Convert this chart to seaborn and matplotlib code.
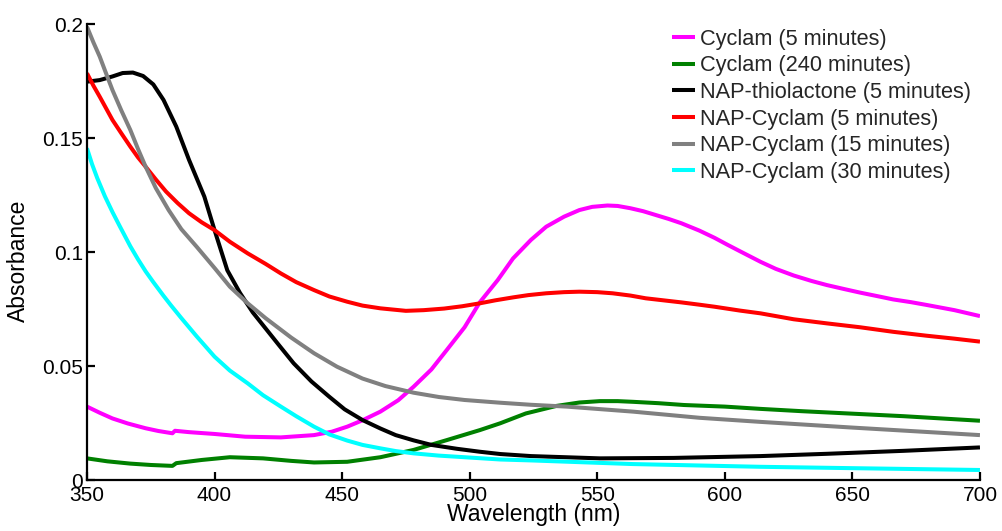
import matplotlib
matplotlib.use("Agg")
import matplotlib.pyplot as plt
import pandas as pd
import seaborn as sns

# UV-Vis absorbance spectra (wavelength in nm, absorbance in a.u.)
cyclam_5_wl = [350, 355, 360, 366, 373, 378, 383.5, 384.5, 390, 400, 412, 426, 439, 446,
               452, 458, 465, 472, 478, 485, 491, 498, 504, 511, 517, 524, 530, 537, 543,
               548, 554, 558, 563, 568, 573, 578, 583, 590, 596, 601, 606, 614, 620, 627,
               634, 640, 647, 653, 660, 666, 673, 679, 690, 700]
cyclam_5_abs = [0.0322, 0.0295, 0.0270, 0.0248, 0.0227, 0.0215, 0.0205, 0.0216, 0.0210,
                0.0202, 0.0190, 0.0187, 0.0197, 0.0212, 0.0234, 0.0262, 0.0300, 0.0350,
                0.0409, 0.0485, 0.0570, 0.0670, 0.0780, 0.0877, 0.0972, 0.1053, 0.1111,
                0.1155, 0.1184, 0.1198, 0.1204, 0.1202, 0.1192, 0.1179, 0.1162, 0.1145,
                0.1126, 0.1094, 0.1062, 0.1032, 0.1003, 0.0957, 0.0926, 0.0897, 0.0873,
                0.0855, 0.0837, 0.0822, 0.0806, 0.0792, 0.0780, 0.0768, 0.0745, 0.0719]

cyclam_240_wl = [350, 358, 367, 375, 383.5, 385, 395, 406, 419, 430, 439, 452, 465, 478,
                 491, 504, 512, 522, 534, 543, 551, 558, 564, 574, 584, 600, 614, 630, 650,
                 670, 685, 700]
cyclam_240_abs = [0.0095, 0.0082, 0.0072, 0.0066, 0.0062, 0.0074, 0.0088, 0.0100, 0.0095,
                  0.0084, 0.0077, 0.0080, 0.0100, 0.0132, 0.0175, 0.0219, 0.0249, 0.0292,
                  0.0325, 0.0340, 0.0346, 0.0346, 0.0343, 0.0337, 0.0329, 0.0322, 0.0312,
                  0.0302, 0.0291, 0.0280, 0.0270, 0.0260]

thiolactone_wl = [350, 355, 360, 364, 368, 372, 376, 380, 385, 390, 396, 400, 405, 410, 415,
                  420, 425, 431, 438, 445, 451, 458, 465, 471, 478, 485, 495, 504, 512, 524,
                  551, 580, 614, 640, 670, 700]
thiolactone_abs = [0.1747, 0.1754, 0.1770, 0.1785, 0.1787, 0.1772, 0.1735, 0.1667, 0.1550,
                   0.1404, 0.1243, 0.1096, 0.0920, 0.0820, 0.0735, 0.0665, 0.0595, 0.0512,
                   0.0432, 0.0365, 0.0310, 0.0263, 0.0226, 0.0197, 0.0174, 0.0154, 0.0137,
                   0.0124, 0.0114, 0.0105, 0.0095, 0.0097, 0.0105, 0.0115, 0.0128, 0.0143]

nap_5_wl = [350, 352.5, 355, 357.5, 360, 363.5, 367, 370, 373, 377, 381, 385.5, 390, 395,
            400, 406, 413, 420, 426, 432, 439, 445, 452, 458, 465, 475, 482, 490, 497, 504,
            510, 517, 523, 530, 537, 543, 550, 556, 563, 569, 576, 583, 590, 596, 606, 614,
            627, 640, 653, 666, 679, 690, 700]
nap_5_abs = [0.1784, 0.1730, 0.1681, 0.1630, 0.1579, 0.1520, 0.1462, 0.1415, 0.1374, 0.1318,
             0.1265, 0.1215, 0.1170, 0.1130, 0.1096, 0.1045, 0.0994, 0.0948, 0.0906, 0.0868,
             0.0833, 0.0805, 0.0782, 0.0765, 0.0753, 0.0742, 0.0745, 0.0752, 0.0762, 0.0775,
             0.0788, 0.0801, 0.0811, 0.0819, 0.0824, 0.0826, 0.0824, 0.0819, 0.0809, 0.0797,
             0.0788, 0.0779, 0.0769, 0.0760, 0.0743, 0.0731, 0.0705, 0.0687, 0.0670, 0.0650,
             0.0633, 0.0620, 0.0607]

nap_15_wl = [350, 352.5, 355, 357.5, 360, 363.5, 367, 370, 373, 377, 382, 387, 393, 400, 406,
             413, 420, 430, 439, 448, 458, 467, 478, 488, 498, 512, 524, 538, 564, 590, 614,
             650, 700]
nap_15_abs = [0.1988, 0.1920, 0.1857, 0.1783, 0.1710, 0.1620, 0.1535, 0.1452, 0.1374, 0.1280,
              0.1184, 0.1100, 0.1023, 0.0930, 0.0848, 0.0775, 0.0710, 0.0625, 0.0556, 0.0497,
              0.0445, 0.0412, 0.0383, 0.0364, 0.0351, 0.0339, 0.0330, 0.0322, 0.0300, 0.0273,
              0.0255, 0.0230, 0.0197]

nap_30_wl = [350, 352, 354, 357, 360, 363, 367, 370, 373, 376, 380, 383, 387, 393, 400, 406,
             413, 419, 426, 432, 439, 445, 452, 458, 465, 471, 478, 488, 498, 512, 524, 564,
             614, 650, 700]
nap_30_abs = [0.1455, 0.1385, 0.1325, 0.1245, 0.1175, 0.1110, 0.1025, 0.0968, 0.0915, 0.0868,
              0.0808, 0.0765, 0.0710, 0.0630, 0.0541, 0.0480, 0.0424, 0.0372, 0.0322, 0.0280,
              0.0234, 0.0200, 0.0173, 0.0154, 0.0139, 0.0127, 0.0117, 0.0107, 0.0100, 0.0090,
              0.0086, 0.0070, 0.0058, 0.0052, 0.0044]

series_names = ["Cyclam (5 minutes)", "Cyclam (240 minutes)", "NAP-thiolactone (5 minutes)",
                "NAP-Cyclam (5 minutes)", "NAP-Cyclam (15 minutes)", "NAP-Cyclam (30 minutes)"]
series_colors = ["#ff00ff", "#008000", "#000000", "#ff0000", "#808080", "#00ffff"]

x_ticks = [350, 400, 450, 500, 550, 600, 650, 700]
y_ticks = [0, 0.05, 0.1, 0.15, 0.2]
y_tick_labels = ["0", "0.05", "0.1", "0.15", "0.2"]

spectra = [(cyclam_5_wl, cyclam_5_abs), (cyclam_240_wl, cyclam_240_abs),
           (thiolactone_wl, thiolactone_abs), (nap_5_wl, nap_5_abs),
           (nap_15_wl, nap_15_abs), (nap_30_wl, nap_30_abs)]

frames = []
for name, (wl, ab) in zip(series_names, spectra):
    frames.append(pd.DataFrame({"Wavelength": wl, "Absorbance": ab, "Sample": name}))
df = pd.concat(frames, ignore_index=True)

sns.set_theme(style="ticks")
plt.rcParams["font.family"] = ["Liberation Sans", "DejaVu Sans"]

fig = plt.figure(figsize=(10.02, 5.31), dpi=100)
ax = fig.add_axes([0.0868, 0.0960, 0.8912, 0.8588])

sns.lineplot(data=df, x="Wavelength", y="Absorbance", hue="Sample",
             hue_order=series_names, palette=series_colors,
             estimator=None, sort=False, linewidth=2.9, legend=False, ax=ax)
for line in ax.lines:
    line.set_solid_joinstyle("round")
    line.set_solid_capstyle("butt")

ax.set_xlim(350, 700)
ax.set_ylim(0, 0.2)
ax.set_xticks(x_ticks)
ax.set_xticklabels([str(t) for t in x_ticks])
ax.set_yticks(y_ticks)
ax.set_yticklabels(y_tick_labels)

for side in ("top", "right"):
    ax.spines[side].set_visible(False)
for side in ("left", "bottom"):
    ax.spines[side].set_linewidth(1.6)
    ax.spines[side].set_color("black")

ax.tick_params(axis="both", direction="in", length=6, width=1.6, colors="black",
               labelsize=15)
ax.tick_params(axis="x", pad=4)
ax.tick_params(axis="y", pad=3)

ax.set_xlabel("Wavelength (nm)", fontsize=16.5, color="black")
ax.set_ylabel("Absorbance", fontsize=16.5, color="black")
ax.xaxis.set_label_coords(0.5, -0.075)
ax.xaxis.label.set_verticalalignment("center")
ax.yaxis.set_label_coords(-0.077, 0.48)
ax.yaxis.label.set_verticalalignment("center")
ax.yaxis.label.set_horizontalalignment("center")

ax.legend(ax.lines, series_names, loc="upper left", bbox_to_anchor=(0.655, 0.99),
          frameon=False, fontsize=15.7, handlelength=1.05, handletextpad=0.22,
          labelspacing=0.26, borderpad=0, borderaxespad=0)

fig.savefig("out.png", dpi=100, facecolor="white")
